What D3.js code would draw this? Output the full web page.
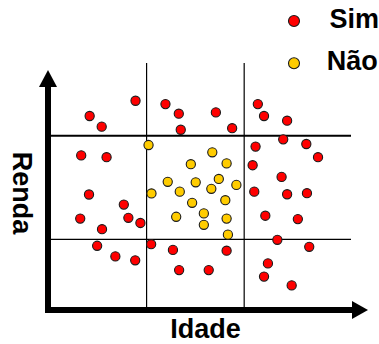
<!DOCTYPE html>
<html>
<head>
<meta charset="utf-8">
<script src="https://cdn.jsdelivr.net/npm/d3@7"></script>
<style>
  html, body { margin: 0; padding: 0; background: #fff; }
  svg { display: block; }
  text { font-family: "Liberation Sans", Arial, sans-serif; font-weight: bold; fill: #000; }
</style>
</head>
<body>
<svg id="chart" width="379" height="344"></svg>
<script>
// ---- data ----
const categories = ["Sim", "Não"];
const categoryColors = ["#ff0000", "#ffcc00"];
const axisLabels = { x: "Idade", y: "Renda" };
const idadeCuts = [30, 60];
const rendaCuts = [30, 70];

const simIdade = [26.6,12.5,16.2,35.8,39.9,40.5,51.3,56.3,64.2,66.1,73.2,72.0,79.1,63.5,82.7,62.6,71.5,63.1,73.2,79.3,66.5,76.5,
                  9.9,17.7,12.3,23.0,9.6,24.4,16.3,28.1,14.8,20.4,26.5,31.4,38.1,54.6,40.0,49.1,70.2,80.0,67.3,66.1,74.6];
const simRenda = [83.5,77.6,73.5,82.2,78.5,72.3,79.0,72.9,82.2,77.6,75.8,68.6,66.8,65.8,61.7,58.6,54.1,48.4,47.4,47.8,39.1,37.8,
                  62.4,61.7,47.3,43.4,38.0,38.3,33.9,36.3,27.5,23.4,21.9,28.1,25.9,25.6,18.1,18.1,29.8,27.1,20.7,15.6,12.2];
const naoIdade = [30.6,50.2,43.6,54.6,36.5,45.1,52.2,49.9,57.6,40.2,31.5,44.0,54.2,39.1,47.6,47.6,54.6,55.0];
const naoRenda = [66.4,63.6,59.0,59.3,52.2,52.0,53.3,49.5,51.0,48.4,47.7,44.1,45.1,38.7,40.0,35.6,38.0,31.8];

// ---- drawing ----
const svg = d3.select("#chart");
const x = d3.scaleLinear().domain([0, 100]).range([49, 374.3]);
const y = d3.scaleLinear().domain([0, 100]).range([317, 58]);

const gridX0 = 50, gridX1 = 351, gridY0 = 63, gridY1 = 309;

// grid lines
svg.selectAll("line.vcut").data(idadeCuts).enter().append("line")
  .attr("x1", d => x(d)).attr("x2", d => x(d))
  .attr("y1", gridY0).attr("y2", gridY1)
  .attr("stroke", "#000").attr("stroke-width", 1.2);
svg.selectAll("line.hcut").data(rendaCuts).enter().append("line")
  .attr("x1", gridX0).attr("x2", gridX1)
  .attr("y1", d => y(d)).attr("y2", d => y(d))
  .attr("stroke", "#000").attr("stroke-width", (d, i) => i === 1 ? 2 : 1.3);

// axes (thick arrows)
const axX = 48, axY = 310;
svg.append("line").attr("x1", axX).attr("x2", axX).attr("y1", 86).attr("y2", axY + 3)
  .attr("stroke", "#000").attr("stroke-width", 6);
svg.append("path").attr("d", `M${axX},70 L${axX - 9},87 L${axX + 9},87 Z`).attr("fill", "#000");
svg.append("line").attr("x1", axX - 3).attr("x2", 353).attr("y1", axY).attr("y2", axY)
  .attr("stroke", "#000").attr("stroke-width", 6);
svg.append("path").attr("d", `M368,${axY} L352,${axY - 9} L352,${axY + 9} Z`).attr("fill", "#000");

// points
const series = [
  { idade: simIdade, renda: simRenda, color: categoryColors[0] },
  { idade: naoIdade, renda: naoRenda, color: categoryColors[1] }
];
series.forEach(s => {
  svg.append("g").selectAll("circle").data(s.idade.map((v, i) => [v, s.renda[i]])).enter()
    .append("circle")
    .attr("cx", d => x(d[0])).attr("cy", d => y(d[1]))
    .attr("r", 4.6)
    .attr("fill", s.color).attr("stroke", "#1a1a1a").attr("stroke-width", 1.1);
});

// axis labels
svg.append("text").attr("x", 205.5).attr("y", 338).attr("text-anchor", "middle")
  .attr("font-size", 27).text(axisLabels.x);
svg.append("text").attr("transform", "translate(12.5,193) rotate(90)").attr("text-anchor", "middle")
  .attr("font-size", 27).text(axisLabels.y);

// legend
const legend = svg.append("g");
const lg = legend.selectAll("g").data(categories).enter().append("g")
  .attr("transform", (d, i) => `translate(0,${i * 42.3})`);
lg.append("circle").attr("cx", 294).attr("cy", 21).attr("r", 5.5)
  .attr("fill", (d, i) => categoryColors[i]).attr("stroke", "#1a1a1a").attr("stroke-width", 1.1);
lg.append("text").attr("x", (d, i) => i === 0 ? 329.5 : 326.7).attr("y", 28)
  .attr("font-size", 27).text(d => d);
</script>
</body>
</html>
